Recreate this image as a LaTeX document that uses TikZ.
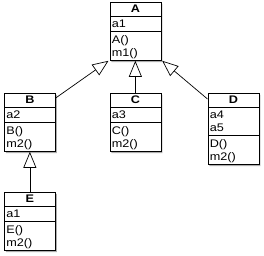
\documentclass[tikz,border=0pt]{standalone}
\usepackage{fontspec}
\setmainfont{Liberation Sans}[FakeStretch=1.15]
\usetikzlibrary{shapes.multipart,shadows,arrows.meta}
\newcommand\hdstrut{\rule[-2.5pt]{0pt}{11pt}}
\newcommand\lnstrut{\rule[-3pt]{0pt}{13pt}}
\tikzset{
  umlclass/.style={rectangle split, rectangle split parts=3, draw=black, line width=0.7pt,
    fill=white, text width=47pt, inner xsep=2pt, inner ysep=1pt,
    font=\fontsize{11}{13}\selectfont,
    drop shadow={shadow xshift=1.6pt, shadow yshift=-1.6pt, fill=black!40, opacity=0.8},
    anchor=north west},
  inherit/.style={draw=black, line width=0.7pt,
    -{Triangle[open, length=16pt, width=13pt, fill=white]}}
}
\newcommand\umlhead[1]{\makebox[47pt][c]{\hdstrut\textbf{#1}}}
\begin{document}
\begin{tikzpicture}[x=1pt,y=1pt]
\useasboundingbox (0,0) rectangle (264,256);
\node[umlclass] (A) at (109.5,254) {\umlhead{A}\nodepart{two}\lnstrut a1\nodepart{three}\lnstrut A()\\\lnstrut m1()};
\node[umlclass] (B) at (4,163) {\umlhead{B}\nodepart{two}\lnstrut a2\nodepart{three}\lnstrut B()\\\lnstrut m2()};
\node[umlclass] (C) at (109.5,163) {\umlhead{C}\nodepart{two}\lnstrut a3\nodepart{three}\lnstrut C()\\\lnstrut m2()};
\node[umlclass] (D) at (207.5,163) {\umlhead{D}\nodepart{two}\lnstrut a4\\\lnstrut a5\nodepart{three}\lnstrut D()\\\lnstrut m2()};
\node[umlclass] (E) at (4,64) {\umlhead{E}\nodepart{two}\lnstrut a1\nodepart{three}\lnstrut E()\\\lnstrut m2()};
\draw[inherit] ([yshift=-5pt]B.north east) -- ([xshift=-1pt]A.south west);
\draw[inherit] (C.north) -- (A.south);
\draw[inherit] ([yshift=-6pt]D.north west) -- ([xshift=1pt]A.south east);
\draw[inherit] (E.north) -- (B.south);
\end{tikzpicture}
\end{document}
